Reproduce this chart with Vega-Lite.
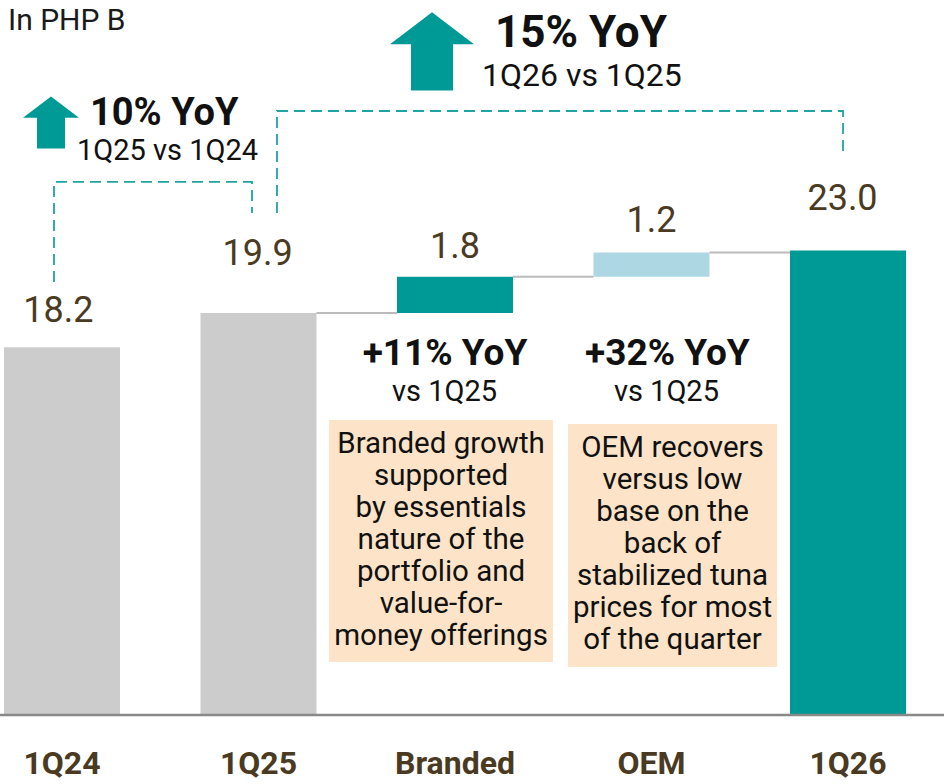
{
  "$schema": "https://vega.github.io/schema/vega-lite/v6.json",
  "width": 944,
  "height": 784,
  "autosize": {"type": "none"},
  "padding": 0,
  "background": "white",
  "config": {"view": {"stroke": null}, "text": {"font": "Roboto"}, "scale": {"continuousPadding": 0}},
  "encoding": {
    "x": {"field": "x", "type": "quantitative", "scale": {"domain": [-0.3155, 4.4885], "nice": false, "zero": false, "padding": 0}, "axis": null},
    "y": {"field": "y", "type": "quantitative", "scale": {"domain": [-3.416, 35.396], "nice": false, "zero": false, "padding": 0}, "axis": null}
  },
  "layer": [
    {
      "data": {"values": [
        {"box": "Branded", "x": 1.359, "x2": 2.499, "y": 14.6, "y2": 2.62},
        {"box": "OEM", "x": 2.575, "x2": 3.639, "y": 14.41, "y2": 2.38}
      ]},
      "mark": {"type": "rect", "color": "#FDE4C8"},
      "encoding": {"x2": {"field": "x2"}, "y2": {"field": "y2"}}
    },
    {
      "data": {"values": [
        {"cat": "1Q24", "x": 0, "y": 18.2, "start": 0},
        {"cat": "1Q25", "x": 1, "y": 19.9, "start": 0},
        {"cat": "Branded", "x": 2, "y": 21.7, "start": 19.9},
        {"cat": "OEM", "x": 3, "y": 22.9, "start": 21.7},
        {"cat": "1Q26", "x": 4, "y": 23.0, "start": 0}
      ]},
      "mark": {"type": "bar", "width": 116},
      "encoding": {
        "y2": {"field": "start"},
        "color": {"field": "cat", "type": "nominal", "legend": null,
          "scale": {"domain": ["1Q24", "1Q25", "Branded", "OEM", "1Q26"], "range": ["#CCCCCC", "#CCCCCC", "#009A96", "#ADD8E3", "#009A96"]}}
      }
    },
    {
      "data": {"values": [
        {"x": 1.295, "x2": 1.705, "y": 19.9},
        {"x": 2.295, "x2": 2.705, "y": 21.7},
        {"x": 3.295, "x2": 3.705, "y": 22.9}
      ]},
      "mark": {"type": "rule", "color": "#BBBBBB", "strokeWidth": 2},
      "encoding": {"x2": {"field": "x2"}}
    },
    {
      "data": {"values": [{"x": -0.3155, "x2": 4.4885, "y": 0}]},
      "mark": {"type": "rule", "color": "#888888", "strokeWidth": 2.5},
      "encoding": {"x2": {"field": "x2"}}
    },
    {
      "data": {"values": [
        {"g": 1, "o": 1, "x": -0.0407, "y": 21.44},
        {"g": 1, "o": 2, "x": -0.0407, "y": 26.39},
        {"g": 1, "o": 3, "x": 0.9669, "y": 26.39},
        {"g": 1, "o": 4, "x": 0.9669, "y": 24.85},
        {"g": 2, "o": 1, "x": 1.0941, "y": 24.85},
        {"g": 2, "o": 2, "x": 1.0941, "y": 29.9},
        {"g": 2, "o": 3, "x": 3.9746, "y": 29.9},
        {"g": 2, "o": 4, "x": 3.9746, "y": 27.72}
      ]},
      "mark": {"type": "line", "color": "#1FA3A3", "strokeWidth": 1.8, "strokeDash": [11, 6]},
      "encoding": {"detail": {"field": "g"}, "order": {"field": "o"}}
    },
    {
      "data": {"values": [{"arrow": "1Q25 vs 1Q24", "x": -0.056, "y": 29.33}]},
      "mark": {"type": "point", "shape": "M0,-0.93L1,-0.17L0.5,-0.17L0.5,0.93L-0.5,0.93L-0.5,-0.17L-1,-0.17Z", "size": 3136, "filled": true, "fill": "#009A96", "opacity": 1, "strokeWidth": 0}
    },
    {
      "data": {"values": [{"arrow": "1Q26 vs 1Q25", "x": 1.883, "y": 32.85}]},
      "mark": {"type": "point", "shape": "M0,-0.93L1,-0.17L0.5,-0.17L0.5,0.93L-0.5,0.93L-0.5,-0.17L-1,-0.17Z", "size": 7056, "filled": true, "fill": "#009A96", "opacity": 1, "strokeWidth": 0}
    },
    {
      "data": {"values": [{"t": "In PHP B", "x": -0.2748, "y": 33.91}]},
      "mark": {"type": "text", "align": "left", "baseline": "alphabetic", "fontSize": 30, "color": "#1A1A1A"},
      "encoding": {"text": {"field": "t"}}
    },
    {
      "data": {"values": [{"t": "10% YoY", "x": 0.1425, "y": 29.21}]},
      "mark": {"type": "text", "align": "left", "baseline": "alphabetic", "fontSize": 38, "fontWeight": "bold", "color": "#111111"},
      "encoding": {"text": {"field": "t"}}
    },
    {
      "data": {"values": [{"t": "1Q25 vs 1Q24", "x": 0.0763, "y": 27.48}]},
      "mark": {"type": "text", "align": "left", "baseline": "alphabetic", "fontSize": 29, "color": "#111111"},
      "encoding": {"text": {"field": "t"}}
    },
    {
      "data": {"values": [{"t": "15% YoY", "x": 2.2036, "y": 33.07}]},
      "mark": {"type": "text", "align": "left", "baseline": "alphabetic", "fontSize": 44, "fontWeight": "bold", "color": "#111111"},
      "encoding": {"text": {"field": "t"}}
    },
    {
      "data": {"values": [{"t": "1Q26 vs 1Q25", "x": 2.1374, "y": 31.14}]},
      "mark": {"type": "text", "align": "left", "baseline": "alphabetic", "fontSize": 32, "color": "#111111"},
      "encoding": {"text": {"field": "t"}}
    },
    {
      "data": {"values": [
        {"t": "18.2", "x": -0.018, "y": 19.46},
        {"t": "19.9", "x": 0.995, "y": 22.28},
        {"t": "1.8", "x": 2.0, "y": 22.62},
        {"t": "1.2", "x": 3.0, "y": 23.91},
        {"t": "23.0", "x": 3.972, "y": 25.0}
      ]},
      "mark": {"type": "text", "align": "center", "baseline": "alphabetic", "fontSize": 36, "color": "#4B3A22"},
      "encoding": {"text": {"field": "t"}}
    },
    {
      "data": {"values": [
        {"t": "+11% YoY", "x": 1.949, "y": 17.33},
        {"t": "+32% YoY", "x": 3.081, "y": 17.33}
      ]},
      "mark": {"type": "text", "align": "center", "baseline": "alphabetic", "fontSize": 37, "fontWeight": "bold", "color": "#111111"},
      "encoding": {"text": {"field": "t"}}
    },
    {
      "data": {"values": [
        {"t": "vs 1Q25", "x": 1.947, "y": 15.54},
        {"t": "vs 1Q25", "x": 3.076, "y": 15.54}
      ]},
      "mark": {"type": "text", "align": "center", "baseline": "alphabetic", "fontSize": 29, "color": "#111111"},
      "encoding": {"text": {"field": "t"}}
    },
    {
      "data": {"values": [
        {"t": ["Branded growth", "supported", "by essentials", "nature of the", "portfolio and", "value-for-", "money offerings"], "x": 1.929, "y": 12.97},
        {"t": ["OEM recovers", "versus low", "base on the", "back of", "stabilized tuna", "prices for most", "of the quarter"], "x": 3.107, "y": 12.77}
      ]},
      "mark": {"type": "text", "align": "center", "baseline": "alphabetic", "fontSize": 29.5, "lineHeight": 32, "color": "#111111"},
      "encoding": {"text": {"field": "t"}}
    },
    {
      "data": {"values": [
        {"t": "1Q24", "x": 0, "y": -2.92},
        {"t": "1Q25", "x": 1, "y": -2.92},
        {"t": "Branded", "x": 2, "y": -2.92},
        {"t": "OEM", "x": 3, "y": -2.92},
        {"t": "1Q26", "x": 4, "y": -2.92}
      ]},
      "mark": {"type": "text", "align": "center", "baseline": "alphabetic", "fontSize": 32, "fontWeight": "bold", "color": "#4B3A22"},
      "encoding": {"text": {"field": "t"}}
    }
  ]
}
